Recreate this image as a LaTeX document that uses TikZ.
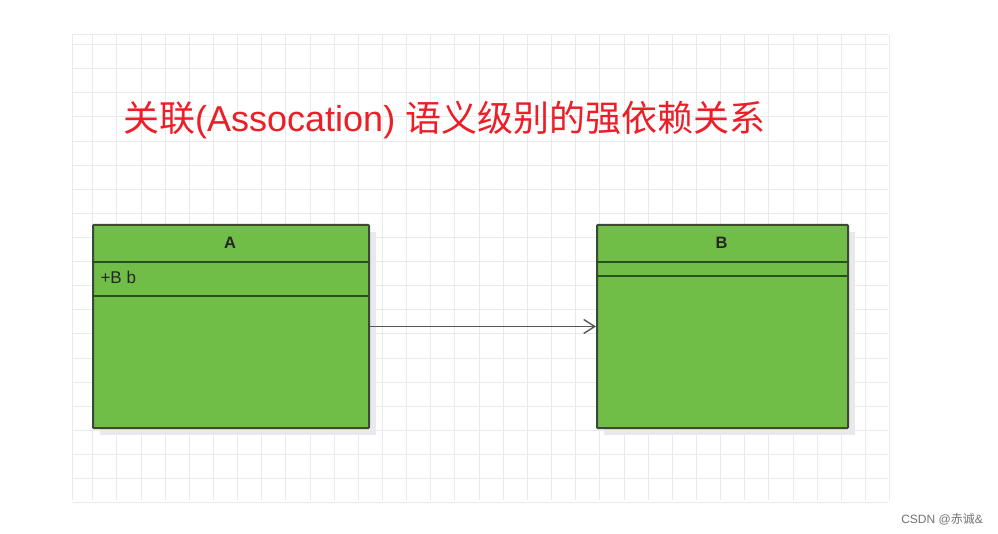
\documentclass[tikz,border=0pt]{standalone}
\usepackage{fontspec}
\setmainfont{Liberation Sans}
\newfontfamily\cjk{Noto Sans CJK SC}
\usetikzlibrary{arrows.meta}
\definecolor{umlgreen}{RGB}{112,189,71}
\definecolor{umlborder}{RGB}{60,72,56}
\definecolor{sepline}{RGB}{38,82,24}
\definecolor{gridc}{RGB}{234,234,236}
\definecolor{shadowc}{RGB}{232,232,238}
\definecolor{titlered}{RGB}{236,30,40}
\tikzset{
  umlbox/.style={draw=umlborder, line width=2pt, fill=umlgreen, anchor=north west, inner sep=0pt, rounded corners=0.8pt},
  sep/.style={draw=sepline, line width=2.2pt},
  assoc/.style={draw=black!65, line width=1.8pt, -{Straight Barb[length=11pt,width=14pt,line width=1.4pt]}},
  boxtitle/.style={font=\fontsize{16.5}{18}\selectfont\bfseries, text=black!85},
  attr/.style={font=\fontsize{17}{19}\selectfont, text=black!85, anchor=west},
}
\begin{document}
\begin{tikzpicture}[x=1pt,y=-1pt]
\useasboundingbox (0,0) rectangle (998,534);
\fill[white] (0,0) rectangle (998,534);
% grid
\begin{scope}[draw=gridc, line width=1pt]
\foreach \i in {0,...,33} { \draw (92.7+24.15*\i,35) -- (92.7+24.15*\i,500); }
\draw (72,35) -- (72,500);
\foreach \j in {0,...,19} { \draw (72,44.7+24.1*\j) -- (888,44.7+24.1*\j); }
\draw (72,35) -- (888,35);
\end{scope}
% title
\node[anchor=west, text=titlered, font=\fontsize{36}{40}\selectfont, inner sep=0pt] (title) at (123,120)
  {{\cjk 关联}(Assocation) {\cjk 语义级别的强依赖关系}};
% shadows
\fill[shadowc] (100,232) rectangle (376,435);
\fill[shadowc] (604,232) rectangle (855,435);
% class A
\node[umlbox, minimum width=276pt, minimum height=203pt] (A) at (92,224) {};
\draw[sep] (A.west |- 0,262) -- (A.east |- 0,262);
\draw[sep] (A.west |- 0,296) -- (A.east |- 0,296);
\node[boxtitle] (Aname) at (230,243) {A};
\node[attr] (Aattr) at (97,277) {+B b};
% class B
\node[umlbox, minimum width=251pt, minimum height=203pt] (B) at (596,224) {};
\draw[sep] (B.west |- 0,262) -- (B.east |- 0,262);
\draw[sep] (B.west |- 0,276) -- (B.east |- 0,276);
\node[boxtitle] (Bname) at (721.5,243) {B};
% association
\draw[assoc] (A) -- (B);
% watermark
\node[anchor=east, text=black!55, font=\fontsize{12}{14}\selectfont, inner sep=0pt] (wm) at (983,519) {CSDN @{\cjk 赤诚}\&};
\end{tikzpicture}
\end{document}
